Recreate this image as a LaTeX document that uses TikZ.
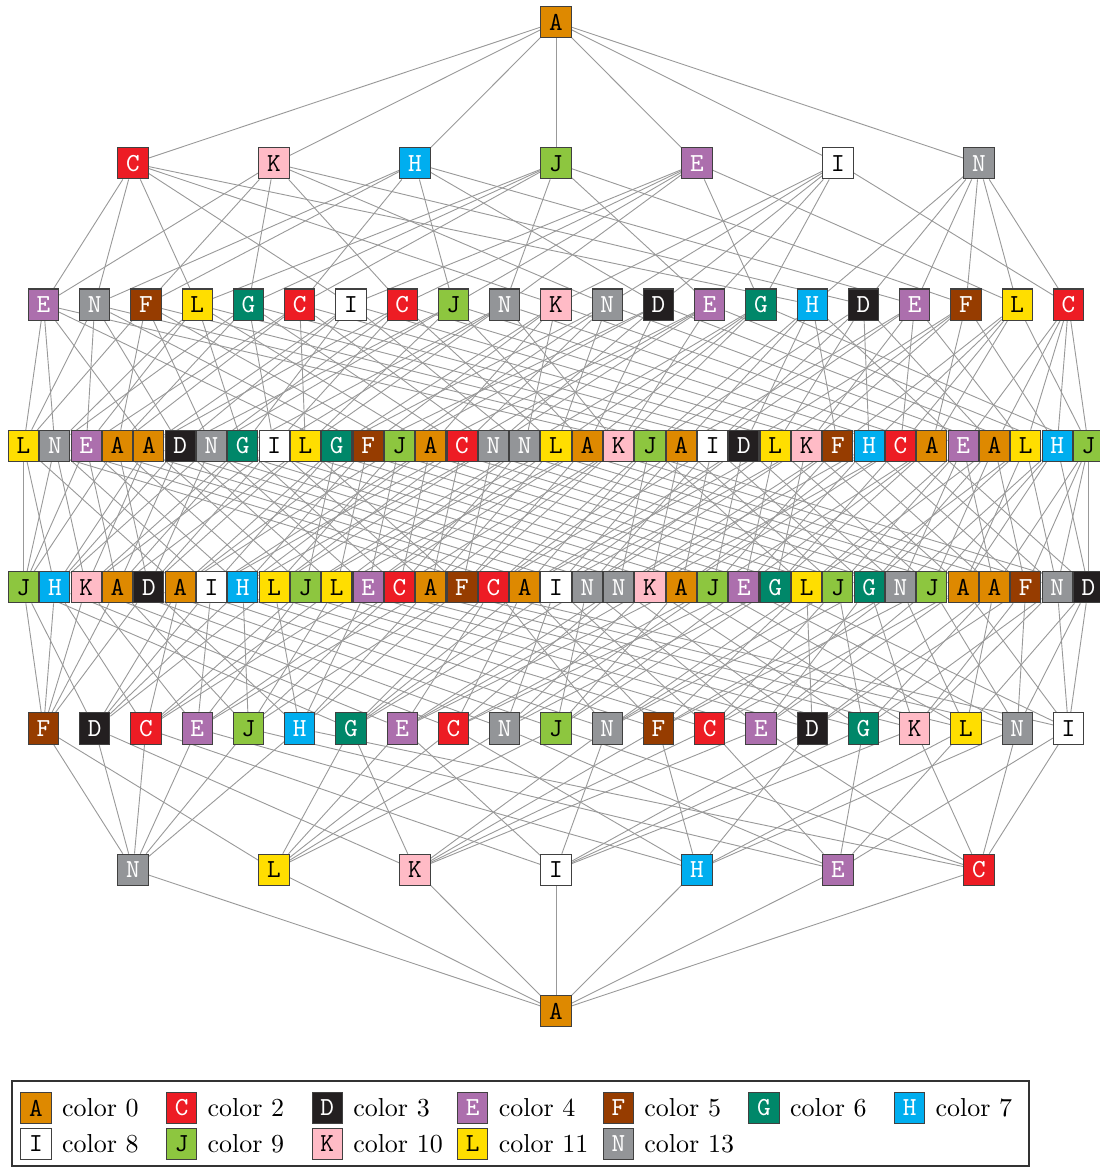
\documentclass[tikz,border=0pt]{standalone}
\usepackage{tikz}
\usetikzlibrary{positioning, backgrounds}

\definecolor{fA}{RGB}{222,137,0}
\definecolor{fC}{RGB}{237,28,36}
\definecolor{fD}{RGB}{35,31,32}
\definecolor{fE}{RGB}{172,111,173}
\definecolor{fF}{RGB}{150,60,0}
\definecolor{fG}{RGB}{0,135,105}
\definecolor{fH}{RGB}{0,174,239}
\definecolor{fI}{RGB}{255,255,255}
\definecolor{fJ}{RGB}{141,198,63}
\definecolor{fK}{RGB}{255,187,198}
\definecolor{fL}{RGB}{255,222,0}
\definecolor{fN}{RGB}{147,149,152}
\colorlet{tA}{black}\colorlet{tC}{white}\colorlet{tD}{white}
\colorlet{tE}{white}\colorlet{tF}{white}\colorlet{tG}{white}
\colorlet{tH}{white}\colorlet{tI}{black}\colorlet{tJ}{black}
\colorlet{tK}{black}\colorlet{tL}{black}\colorlet{tN}{white}

\newcount\bitsleft
\newcount\popc
\newcommand\popcountof[1]{%
  \popc=0\relax \bitsleft=#1\relax
  \loop\ifnum\bitsleft>0\relax
    \ifodd\bitsleft\relax\advance\popc by 1\relax\fi
    \divide\bitsleft by 2\relax
  \repeat}

\begin{document}
\begin{tikzpicture}[
    x=0.385pt, y=-0.385pt,
    vtx/.style={draw=black!75, line width=0.4pt, inner sep=0pt,
                minimum width=11.6pt, minimum height=12pt,
                font=\ttfamily, fill=f#1, text=t#1},
    link/.style={draw=gray!80, line width=0.35pt},
    lbl/.style={font=\normalsize, inner sep=3.33pt},
]
\useasboundingbox (0,0) rectangle (1099,1167);

\foreach \row/\n/\sp/\labs in {
    0/1/0/{A},
    1/7/141/{C,K,H,J,E,I,N},
    2/21/51.25/{E,N,F,L,G,C,I,C,J,N,K,N,D,E,G,H,D,E,F,L,C},
    3/35/31.32/{L,N,E,A,A,D,N,G,I,L,G,F,J,A,C,N,N,L,A,K,J,A,I,D,L,K,F,H,C,A,E,A,L,H,J},
    4/35/31.32/{J,H,K,A,D,A,I,H,L,J,L,E,C,A,F,C,A,I,N,N,K,A,J,E,G,L,J,G,N,J,A,A,F,N,D},
    5/21/51.25/{F,D,C,E,J,H,G,E,C,N,J,N,F,C,E,D,G,K,L,N,I},
    6/7/141/{N,L,K,I,H,E,C},
    7/1/0/{A}}{
  \foreach \lab [count=\i] in \labs
    \node[vtx=\lab] (r\row-\i) at ({556+(\i-(\n+1)/2)*\sp},{22+141.3*\row}) {\lab};
}

% subsets of a 7-set, each row in increasing bitmask order
\foreach \k in {0,...,7}{\expandafter\xdef\csname cnt\k\endcsname{0}}
\foreach \m in {0,...,127}{
  \popcountof{\m}
  \edef\p{\the\popc}
  \edef\idx{\the\numexpr\csname cnt\p\endcsname+1\relax}
  \expandafter\xdef\csname cnt\p\endcsname{\idx}
  \expandafter\xdef\csname pos\m\endcsname{r\p-\idx}
}
\begin{scope}[on background layer]
\foreach \m in {0,...,126}{
  \foreach \b in {1,2,4,8,16,32,64}{
    \bitsleft=\m\relax
    \divide\bitsleft by \b\relax
    \ifodd\bitsleft\relax\else
      \edef\up{\the\numexpr\m+\b\relax}
      \edef\src{\csname pos\m\endcsname}
      \edef\dst{\csname pos\up\endcsname}
      \draw[link] (\src) -- (\dst);
    \fi
  }
}
\end{scope}

\draw[black!80, line width=0.4pt] (12,1081) rectangle (1029,1166);
\foreach \lab/\num/\cx/\cy in {A/0/0/0, C/2/1/0, D/3/2/0, E/4/3/0, F/5/4/0,
    G/6/5/0, H/7/6/0, I/8/0/1, J/9/1/1, K/10/2/1, L/11/3/1, N/13/4/1}{
  \node[vtx=\lab] (key\lab) at ({36+145.6*\cx},{1108+36*\cy}) {\lab};
  \node[lbl, right=0.5pt of key\lab] (txt\lab) {color \num};
}
\end{tikzpicture}
\end{document}
